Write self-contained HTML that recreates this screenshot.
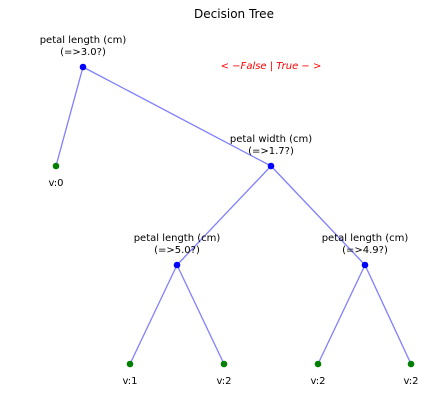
<!DOCTYPE html>
<html><head><meta charset="utf-8"><style>
html,body{margin:0;padding:0;background:#fff;}
svg{display:block;font-family:"DejaVu Sans","Liberation Sans",sans-serif;}
</style></head><body>
<svg width="436" height="403" viewBox="0 0 436 403" xmlns="http://www.w3.org/2000/svg">
<rect width="436" height="403" fill="#fff"/>
<text x="234" y="18" font-size="12" text-anchor="middle" fill="#000">Decision Tree</text>
<g stroke="#7f7fff" stroke-width="1.3" fill="none">
<line x1="83" y1="67" x2="56" y2="166"/>
<line x1="83" y1="67" x2="271" y2="166"/>
<line x1="271" y1="166" x2="177" y2="265"/>
<line x1="271" y1="166" x2="365" y2="265"/>
<line x1="177" y1="265" x2="130" y2="364"/>
<line x1="177" y1="265" x2="224" y2="364"/>
<line x1="365" y1="265" x2="318" y2="364"/>
<line x1="365" y1="265" x2="411" y2="364"/>
</g>
<g fill="#0000ff">
<circle cx="83" cy="67" r="3.3"/><circle cx="271" cy="166" r="3.3"/>
<circle cx="177" cy="265" r="3.3"/><circle cx="365" cy="265" r="3.3"/>
</g>
<g fill="#008000">
<circle cx="56" cy="166" r="3.3"/><circle cx="130" cy="364" r="3.3"/>
<circle cx="224" cy="364" r="3.3"/><circle cx="318" cy="364" r="3.3"/>
<circle cx="411" cy="364" r="3.3"/>
</g>
<g font-size="10" text-anchor="middle" fill="#000">
<text x="83" y="43">petal length (cm)</text><text x="83" y="55">(=&gt;3.0?)</text>
<text x="271" y="142">petal width (cm)</text><text x="271" y="154">(=&gt;1.7?)</text>
<text x="177" y="241">petal length (cm)</text><text x="177" y="253">(=&gt;5.0?)</text>
<text x="365" y="241">petal length (cm)</text><text x="365" y="253">(=&gt;4.9?)</text>
<text x="56" y="186">v:0</text>
<text x="130" y="384">v:1</text><text x="224" y="384">v:2</text>
<text x="318" y="384">v:2</text><text x="411" y="384">v:2</text>
</g>
<text x="271" y="69" font-size="10" font-style="italic" text-anchor="middle" fill="#ff0000">&lt; −False | True − &gt;</text>
</svg>
</body></html>
